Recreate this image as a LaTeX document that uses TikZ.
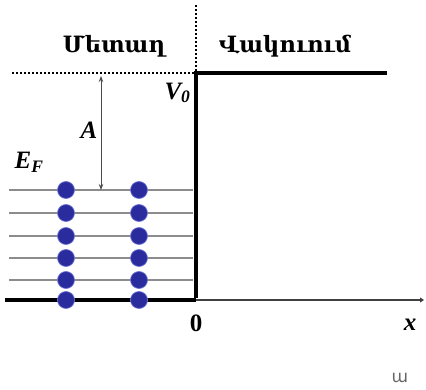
\documentclass[tikz,border=0pt]{standalone}
\usepackage{fontspec}
\setmainfont{Liberation Serif}
\newfontfamily\armfont{DejaVu Serif}
\newfontfamily\armsans{DejaVu Sans}
\usetikzlibrary{arrows.meta}

\begin{document}
\begin{tikzpicture}[x=1pt, y=-1pt]
    \tikzset{
        wand/.style={line width=3.2pt},
        achse/.style={line width=2.2pt, black!75},
        niveau/.style={line width=1.4pt, black!45},
        punktlinie/.style={dash pattern=on 1.6pt off 2.4pt, line width=1.6pt},
        pfeil/.style={line width=0.9pt, black!70, {Stealth[length=6pt]}-{Stealth[length=6pt]}},
        elektron/.style={circle, fill={rgb,255:red,42;green,44;blue,158}, draw={rgb,255:red,110;green,115;blue,210}, line width=0.7pt, inner sep=0pt, minimum size=17pt},
        kopf/.style={font=\armfont\bfseries\fontsize{22.5}{22.5}\selectfont},
        formel/.style={font=\bfseries\itshape\fontsize{25}{25}\selectfont}
    }
    \useasboundingbox (0,0) rectangle (426,390);

    % --- Koordinaten ---
    \coordinate (ursprung) at (196,300);
    \coordinate (ecke) at (196,73);
    \coordinate (oben) at (196,5);
    \coordinate (links) at (12,73);
    \coordinate (rechts) at (387,73);
    \coordinate (achsstart) at (5,300);
    \coordinate (achsende) at (424,300);

    % --- Potentialtopf ---
    \draw[punktlinie] (oben) -- (ecke);
    \draw[punktlinie] (links) -- (ecke);
    \draw[wand] ([xshift=-1.6pt]ecke) -- (rechts);
    \draw[achse, -{Triangle[length=4pt, width=5pt]}] (ursprung) -- (achsende);
    \draw[wand] (achsstart) -- (ursprung);
    \draw[wand] ([yshift=1.6pt]ursprung) -- (ecke);

    % --- Energieniveaus ---
    \foreach \y in {190, 213, 236, 258, 280} {
        \coordinate (n-l-\y) at (9,\y);
        \coordinate (n-r-\y) at (193,\y);
        \draw[niveau] (n-l-\y) -- (n-r-\y);
    }

    % --- Elektronen ---
    \foreach \x in {66, 139} {
        \foreach \y in {190, 213, 236, 258, 280, 300} {
            \node[elektron] (e-\x-\y) at (\x,\y) {};
        }
    }

    % --- Austrittsarbeit ---
    \coordinate (a-oben) at (101,76);
    \coordinate (a-unten) at (101,190);
    \draw[pfeil] (a-oben) -- (a-unten);
    \node[formel] (a) at (89,130) {A};

    % --- Beschriftungen ---
    \node[kopf] (metall) at (114,46) {Մետաղ};
    \node[kopf] (vakuum) at (285,46) {Վակուում};
    \node[formel, anchor=east] (v0) at (194,93) {V\textsubscript{0}};
    \node[formel] (ef) at (29,162) {E\textsubscript{F}};
    \node[font=\bfseries\fontsize{25}{25}\selectfont] (null) at (196,323) {0};
    \node[formel] (x) at (410,325) {x};
    \node[font=\armsans\fontsize{17}{17}\selectfont, black!60] (a-marke) at (400,378) {ա};
\end{tikzpicture}
\end{document}
